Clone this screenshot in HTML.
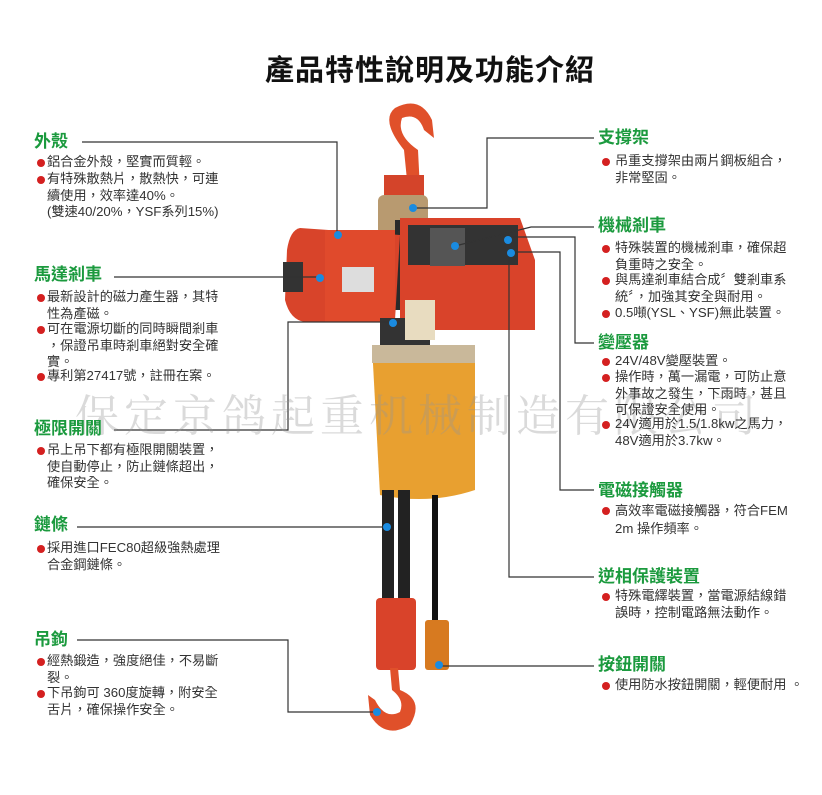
<!DOCTYPE html>
<html><head><meta charset="utf-8"><style>
body{margin:0;width:822px;height:795px;background:#fff;position:relative;overflow:hidden;font-family:"Liberation Sans","Noto Sans CJK TC",sans-serif;}
.h{position:absolute;color:#1b9a3e;font-weight:bold;font-size:17px;line-height:20px;white-space:nowrap}
.t{position:absolute;color:#333;font-size:13.2px;line-height:16.5px;white-space:nowrap}
.t b{position:absolute;left:-10px;top:5px;width:8px;height:8px;border-radius:50%;background:#d42020}
.r b{left:-13px}
.title{position:absolute;left:0;width:860px;text-align:center;top:47px;font-size:29px;font-weight:bold;color:#111;letter-spacing:1px}
.wm{position:absolute;left:75px;top:380px;font-family:"Noto Serif CJK SC","Liberation Serif",serif;font-size:44px;color:rgba(150,150,150,0.35);letter-spacing:5px;white-space:nowrap}
</style></head><body>
<div class="title">產品特性說明及功能介紹</div>
<svg width="822" height="795" style="position:absolute;left:0;top:0">
<g>
<path d="M408 190 L404 150 Q380 120 395 108 Q420 95 432 120 L434 138 L424 130 Q418 112 402 118 Q396 135 418 150 L420 190 Z" fill="#e0502a"/>
<rect x="384" y="175" width="40" height="40" fill="#d4442a"/>
<rect x="378" y="195" width="50" height="40" rx="6" fill="#b89a70"/>
<rect x="395" y="220" width="125" height="90" fill="#2a2a2a"/>
<path d="M400 218 L520 218 L535 260 L535 330 L400 330 Z" fill="#d9432a"/>
<rect x="408" y="225" width="110" height="40" fill="#333"/>
<rect x="430" y="228" width="35" height="38" fill="#555"/>
<path d="M300 228 Q290 230 287 250 L285 300 Q290 320 305 322 L395 320 L400 235 Z" fill="#d8442a"/>
<rect x="325" y="230" width="70" height="92" fill="#e04a2c"/>
<rect x="342" y="267" width="32" height="25" fill="#ddd"/>
<rect x="283" y="262" width="20" height="30" fill="#333"/>
<rect x="380" y="318" width="50" height="30" fill="#333"/>
<rect x="405" y="300" width="30" height="40" fill="#e8dcc0"/>
<path d="M372 345 L475 345 L475 490 Q430 505 380 495 Z" fill="#e8a030"/>
<rect x="372" y="345" width="103" height="18" fill="#c9b89a"/>
<rect x="382" y="490" width="12" height="110" fill="#222"/>
<rect x="398" y="490" width="12" height="110" fill="#222"/>
<rect x="432" y="495" width="6" height="125" fill="#111"/>
<rect x="376" y="598" width="40" height="72" rx="4" fill="#d9432a"/>
<path d="M390 668 L398 668 L400 690 Q425 700 410 725 Q385 740 370 715 L368 695 L375 700 Q385 720 400 712 Q405 700 392 690 Z" fill="#e0502a"/>
<rect x="425" y="620" width="24" height="50" rx="3" fill="#d77a20"/>
</g>
<g stroke="#333" stroke-width="1.2" fill="none">
<polyline points="82,142 337,142 337,235"/>
<polyline points="114,277 320,277"/>
<polyline points="114,430 288,430 288,322 392,322"/>
<polyline points="77,527 387,527"/>
<polyline points="77,640 288,640 288,712 377,712"/>
<polyline points="594,138 487,138 487,208 413,208"/>
<polyline points="594,227 531,227 455,246"/>
<polyline points="594,343 575,343 575,237 508,237"/>
<polyline points="594,490 560,490 560,252 511,252"/>
<polyline points="594,577 509,577 509,253"/>
<polyline points="594,666 439,666"/>
</g>
<g fill="#1a8be0">
<circle cx="338" cy="235" r="4"/><circle cx="320" cy="278" r="4"/><circle cx="393" cy="323" r="4"/>
<circle cx="387" cy="527" r="4"/><circle cx="377" cy="712" r="4"/><circle cx="413" cy="208" r="4"/>
<circle cx="455" cy="246" r="4"/><circle cx="508" cy="240" r="4"/><circle cx="511" cy="253" r="4"/>
<circle cx="439" cy="665" r="4"/>
</g>
</svg>
<div class="wm">保定京鸽起重机械制造有限公司</div>

<div class="h" style="left:34px;top:132px">外殼</div>
<div class="t" style="left:47px;top:154px"><b></b>鋁合金外殼，堅實而質輕。</div>
<div class="t" style="left:47px;top:171px"><b></b>有特殊散熱片，散熱快，可連<br>續使用，效率達40%。<br>(雙速40/20%，YSF系列15%)</div>

<div class="h" style="left:34px;top:265px">馬達剎車</div>
<div class="t" style="left:47px;top:289px"><b></b>最新設計的磁力產生器，其特<br>性為產磁。</div>
<div class="t" style="left:47px;top:321px"><b></b>可在電源切斷的同時瞬間剎車<br>，保證吊車時剎車絕對安全確<br>實。</div>
<div class="t" style="left:47px;top:368px"><b></b>專利第27417號，註冊在案。</div>

<div class="h" style="left:34px;top:419px">極限開關</div>
<div class="t" style="left:47px;top:442px"><b></b>吊上吊下都有極限開關裝置，<br>使自動停止，防止鏈條超出，<br>確保安全。</div>

<div class="h" style="left:34px;top:515px">鏈條</div>
<div class="t" style="left:47px;top:540px"><b></b>採用進口FEC80超級強熱處理<br>合金鋼鏈條。</div>

<div class="h" style="left:34px;top:630px">吊鉤</div>
<div class="t" style="left:47px;top:653px"><b></b>經熱鍛造，強度絕佳，不易斷<br>裂。</div>
<div class="t" style="left:47px;top:685px"><b></b>下吊鉤可 360度旋轉，附安全<br>舌片，確保操作安全。</div>

<div class="h" style="left:598px;top:128px">支撐架</div>
<div class="t r" style="left:615px;top:153px"><b></b>吊重支撐架由兩片鋼板組合，<br>非常堅固。</div>

<div class="h" style="left:598px;top:216px">機械剎車</div>
<div class="t r" style="left:615px;top:240px"><b></b>特殊裝置的機械剎車，確保超<br>負重時之安全。</div>
<div class="t r" style="left:615px;top:272px"><b></b>與馬達剎車結合成〞雙剎車系<br>統〞，加強其安全與耐用。</div>
<div class="t r" style="left:615px;top:305px"><b></b>0.5噸(YSL、YSF)無此裝置。</div>

<div class="h" style="left:598px;top:333px">變壓器</div>
<div class="t r" style="left:615px;top:353px"><b></b>24V/48V變壓裝置。</div>
<div class="t r" style="left:615px;top:369px"><b></b>操作時，萬一漏電，可防止意<br>外事故之發生，下雨時，甚且<br>可保證安全使用。</div>
<div class="t r" style="left:615px;top:416px"><b></b>24V適用於1.5/1.8kw之馬力，<br>48V適用於3.7kw。</div>

<div class="h" style="left:598px;top:481px">電磁接觸器</div>
<div class="t r" style="left:615px;top:502px;line-height:18px"><b></b>高效率電磁接觸器，符合FEM<br>2m 操作頻率。</div>

<div class="h" style="left:598px;top:567px">逆相保護裝置</div>
<div class="t r" style="left:615px;top:588px"><b></b>特殊電繹裝置，當電源結線錯<br>誤時，控制電路無法動作。</div>

<div class="h" style="left:598px;top:655px">按鈕開關</div>
<div class="t r" style="left:615px;top:677px"><b></b>使用防水按鈕開關，輕便耐用 。</div>
</body></html>
